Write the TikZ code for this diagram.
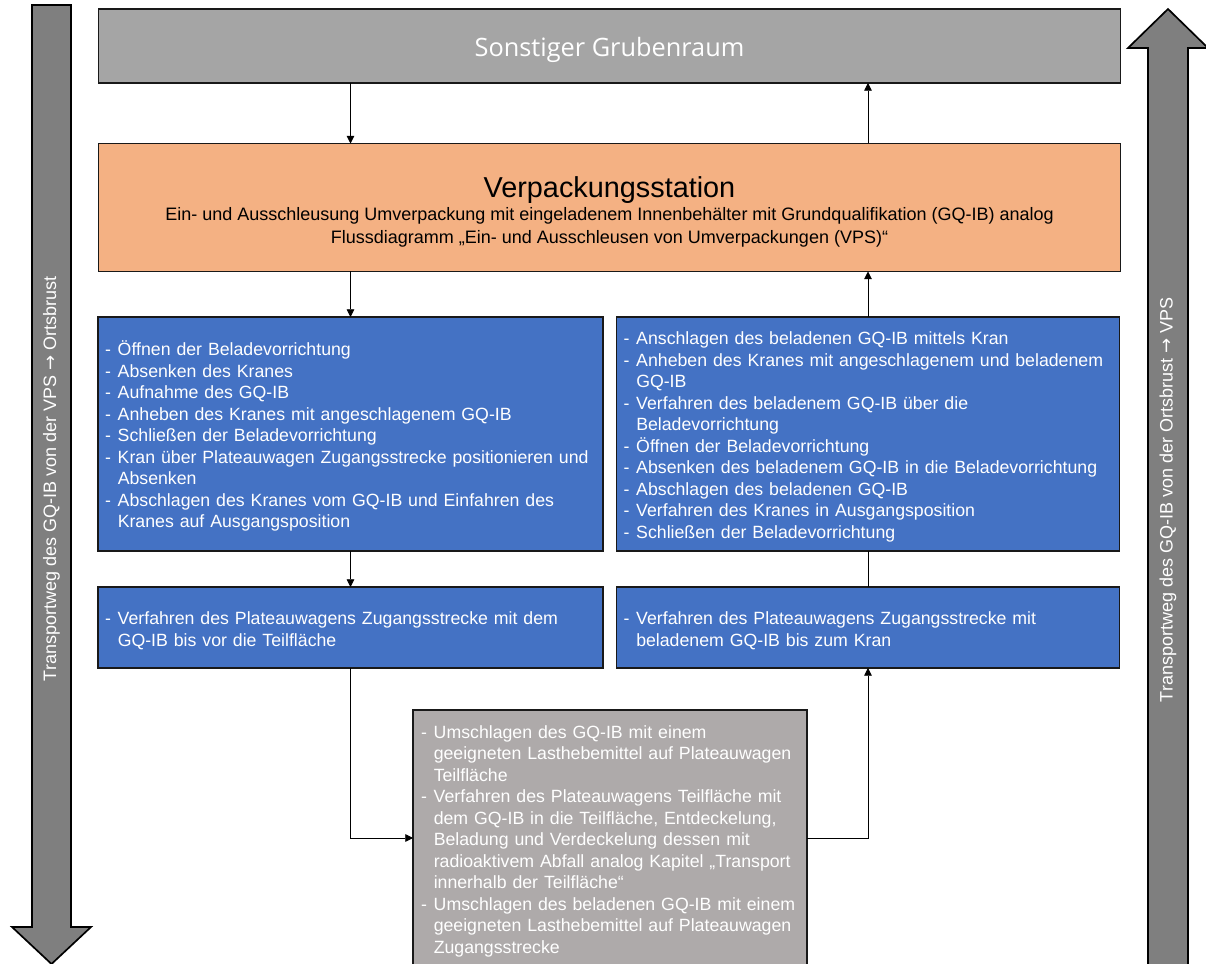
\documentclass[tikz,border=0pt]{standalone}
\usepackage{fontspec}
\setmainfont{Liberation Sans}
\newfontfamily\headfont{Open Sans}
\newfontfamily\symbfont{DejaVu Sans}
\usetikzlibrary{arrows.meta}

\definecolor{grubegrau}{HTML}{A5A5A5}
\definecolor{vpsorange}{HTML}{F4B183}
\definecolor{schrittblau}{HTML}{4472C4}
\definecolor{tfgrau}{HTML}{AEAAAA}
\definecolor{weggrau}{HTML}{7F7F7F}

% one unit = one pixel of the layout
\newlength\pix
\setlength\pix{0.025cm}
\newcommand\strich{\makebox[0.72em][l]{-}}
\newcommand\weiter{\hspace*{0.72em}}
\newcommand\nach{{\symbfont →}}

\tikzset{
  box/.style={draw=black!90, line width=1.4pt, inner sep=0pt, outer sep=0pt,
    font=\fontsize{12.6}{15.3}\selectfont},
  schritt/.style={box, fill=schrittblau, text=white, align=left, inner xsep=7\pix,
    execute at begin node=\rule{0pt}{13.5pt}},
  pfeil/.style={-{Triangle[length=5.5pt,width=5.5pt]}, line width=0.6pt},
  wegpfeil/.style={draw=black, line width=1.2pt, fill=weggrau},
  wegtext/.style={rotate=90, text=white, font=\fontsize{12.8}{15.3}\selectfont},
}

\begin{document}
\begin{tikzpicture}[x=0.025cm,y=-0.025cm]
  \useasboundingbox (0,0) rectangle (1206,964);
  \clip (0,0) rectangle (1206,964);

  % transport routes at both sides
  \draw[wegpfeil] (32,5) -- (71,5) -- (71,927) -- (91,927) -- (51.5,964)
    -- (12,927) -- (32,927) -- cycle;
  \draw[wegpfeil] (1148,970) -- (1148,48) -- (1128,48) -- (1168,9)
    -- (1208,48) -- (1188,48) -- (1188,970) -- cycle;
  \node[wegtext] (hin) at (51.5,479) {Transportweg des GQ-IB von der VPS \nach{} Ortsbrust};
  \node[wegtext] (rueck) at (1168,500) {Transportweg des GQ-IB von der Ortsbrust \nach{} VPS};

  % boxes
  \node[box, fill=grubegrau, text=white, minimum width=1022\pix, minimum height=74\pix,
    font=\headfont\fontsize{18}{20}\selectfont] (grube) at (609.5,46)
    {\rule{0pt}{19pt}Sonstiger Grubenraum};
  \node[box, fill=vpsorange, align=center, minimum width=1022\pix, minimum height=128\pix,
    font=\fontsize{12.8}{15.7}\selectfont] (vps) at (609.5,207.5)
    {\rule{0pt}{21pt}{\fontsize{20.5}{24}\selectfont Verpackungsstation}\\[1pt]
     Ein- und Ausschleusung Umverpackung mit eingeladenem Innenbehälter mit Grundqualifikation (GQ-IB) analog\\[0.8pt]
     Flussdiagramm „Ein- und Ausschleusen von Umverpackungen (VPS)“};

  \node[schritt, text width=491\pix, minimum height=234\pix] (einl) at (350.5,434)
    {\strich Öffnen der Beladevorrichtung\\
     \strich Absenken des Kranes\\
     \strich Aufnahme des GQ-IB\\
     \strich Anheben des Kranes mit angeschlagenem GQ-IB\\
     \strich Schließen der Beladevorrichtung\\
     \strich Kran über Plateauwagen Zugangsstrecke positionieren und\\
     \weiter Absenken\\
     \strich Abschlagen des Kranes vom GQ-IB und Einfahren des\\
     \weiter Kranes auf Ausgangsposition};
  \node[schritt, text width=489\pix, minimum height=234\pix] (ausl) at (868,434)
    {\strich Anschlagen des beladenen GQ-IB mittels Kran\\
     \strich Anheben des Kranes mit angeschlagenem und beladenem\\
     \weiter GQ-IB\\
     \strich Verfahren des beladenem GQ-IB über die\\
     \weiter Beladevorrichtung\\
     \strich Öffnen der Beladevorrichtung\\
     \strich Absenken des beladenem GQ-IB in die Beladevorrichtung\\
     \strich Abschlagen des beladenen GQ-IB\\
     \strich Verfahren des Kranes in Ausgangsposition\\
     \strich Schließen der Beladevorrichtung};

  \node[schritt, text width=491\pix, minimum height=81\pix] (fahrhin) at (350.5,627.5)
    {\strich Verfahren des Plateauwagens Zugangsstrecke mit dem\\
     \weiter GQ-IB bis vor die Teilfläche};
  \node[schritt, text width=489\pix, minimum height=81\pix] (fahrzur) at (868,627.5)
    {\strich Verfahren des Plateauwagens Zugangsstrecke mit\\
     \weiter beladenem GQ-IB bis zum Kran};

  \node[schritt, fill=tfgrau, inner xsep=8\pix, text width=378\pix, minimum height=256\pix]
    (tf) at (610,838)
    {\strich Umschlagen des GQ-IB mit einem\\
     \weiter geeigneten Lasthebemittel auf Plateauwagen\\
     \weiter Teilfläche\\
     \strich Verfahren des Plateauwagens Teilfläche mit\\
     \weiter dem GQ-IB in die Teilfläche, Entdeckelung,\\
     \weiter Beladung und Verdeckelung dessen mit\\
     \weiter radioaktivem Abfall analog Kapitel „Transport\\
     \weiter innerhalb der Teilfläche“\\
     \strich Umschlagen des beladenen GQ-IB mit einem\\
     \weiter geeigneten Lasthebemittel auf Plateauwagen\\
     \weiter Zugangsstrecke};

  % flow
  \draw[pfeil] (grube.south -| einl.north) -- (vps.north -| einl.north);
  \draw[pfeil] (vps.south -| einl.north) -- (einl.north);
  \draw[pfeil] (einl.south) -- (fahrhin.north);
  \draw[pfeil] (fahrhin.south) |- (tf.west);
  \draw[pfeil] (tf.east) -| (fahrzur.south);
  \draw[line width=0.6pt] (fahrzur.north) -- (ausl.south);
  \draw[pfeil] (ausl.north) -- (vps.south -| ausl.north);
  \draw[pfeil] (vps.north -| ausl.north) -- (grube.south -| ausl.north);
\end{tikzpicture}
\end{document}
